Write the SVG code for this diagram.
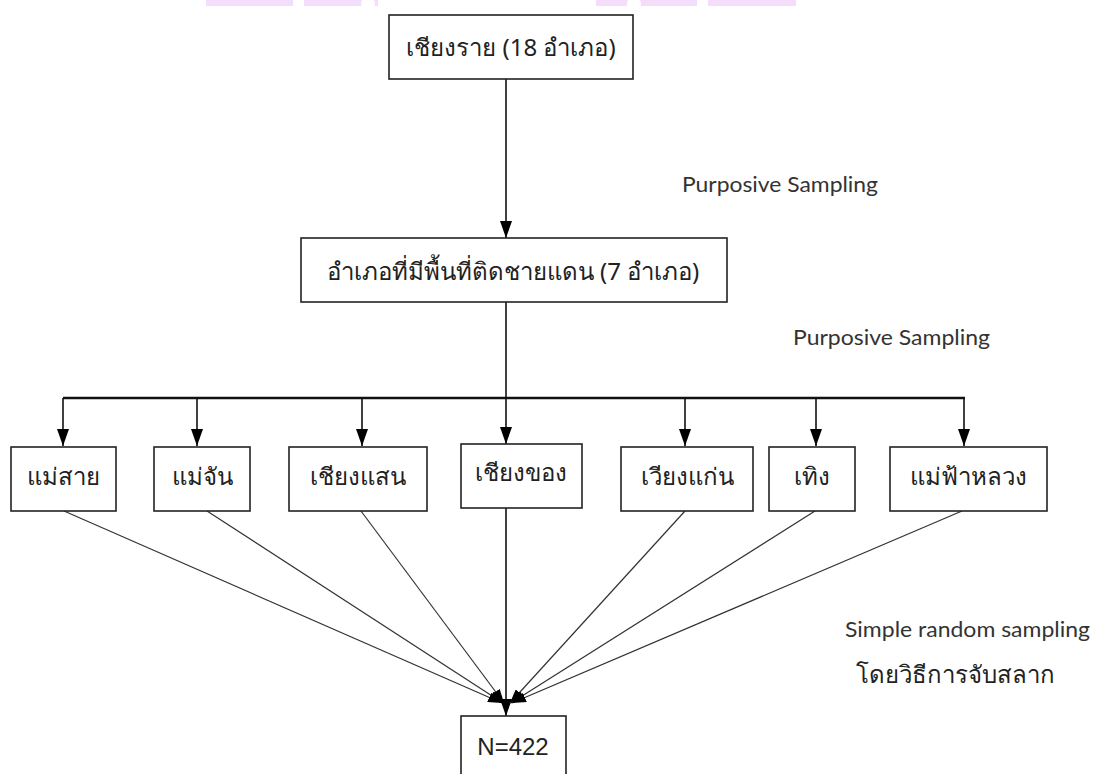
<svg xmlns="http://www.w3.org/2000/svg" width="1096" height="774" viewBox="0 0 1096 774">
<style>
.box{fill:#fff;stroke:#222;stroke-width:1.6}
.th{font-family:"Noto Sans","DejaVu Sans",sans-serif;font-size:24px;fill:#222;text-anchor:middle}
.lbl{font-family:Lato,"Open Sans",sans-serif;font-size:22px;fill:#333}
.c{stroke:#111;stroke-width:1.6;fill:none}
.s{stroke:#333;stroke-width:1.2;fill:none}
.wm{fill:#f4dcfb}
</style>
<defs>
<marker id="a" viewBox="0 0 17 12" refX="17" refY="6" markerWidth="17" markerHeight="12" markerUnits="userSpaceOnUse" orient="auto"><path d="M0,0 L17,6 L0,12 z" fill="#000"/></marker>
<marker id="b" viewBox="0 0 14 10" refX="14" refY="5" markerWidth="14" markerHeight="10" markerUnits="userSpaceOnUse" orient="auto"><path d="M0,0 L14,5 L0,10 z" fill="#000"/></marker>
</defs>
<rect width="1096" height="774" fill="#fff"/>
<g id="watermark">
<rect class="wm" x="206" y="0" width="87" height="6"/>
<rect class="wm" x="304" y="0" width="74" height="6"/>
<rect class="wm" x="596" y="0" width="101" height="6"/>
<rect class="wm" x="708" y="0" width="88" height="6"/>
<circle cx="368" cy="4" r="7" fill="#fff"/>
<circle cx="634" cy="4" r="7" fill="#fff"/>
</g>
<g id="connectors">
<line class="c" x1="506" y1="79" x2="506" y2="238" marker-end="url(#a)"/>
<line class="c" x1="506" y1="302" x2="506" y2="398"/>
<line x1="63" y1="398" x2="965" y2="398" stroke="#111" stroke-width="2.6"/>
<line class="c" x1="63" y1="398" x2="63" y2="446" marker-end="url(#a)"/>
<line class="c" x1="197" y1="398" x2="197" y2="446" marker-end="url(#a)"/>
<line class="c" x1="362" y1="398" x2="362" y2="446" marker-end="url(#a)"/>
<line class="c" x1="506" y1="398" x2="506" y2="444" marker-end="url(#a)"/>
<line class="c" x1="685" y1="398" x2="685" y2="446" marker-end="url(#a)"/>
<line class="c" x1="816" y1="398" x2="816" y2="446" marker-end="url(#a)"/>
<line class="c" x1="964" y1="398" x2="964" y2="446" marker-end="url(#a)"/>
<line class="s" x1="64" y1="511" x2="502" y2="703" marker-end="url(#b)"/>
<line class="s" x1="207" y1="511" x2="503" y2="703" marker-end="url(#b)"/>
<line class="s" x1="361" y1="511" x2="504" y2="703" marker-end="url(#b)"/>
<line class="c" x1="506" y1="508" x2="506" y2="716" marker-end="url(#a)"/>
<line class="s" x1="685" y1="511" x2="510" y2="703" marker-end="url(#b)"/>
<line class="s" x1="815" y1="511" x2="511" y2="703" marker-end="url(#b)"/>
<line class="s" x1="962" y1="511" x2="512" y2="703" marker-end="url(#b)"/>
</g>
<g id="n-chiangrai"><rect class="box" x="389" y="15" width="244" height="64"/><text class="th" x="511" y="56">เชียงราย (18 อำเภอ)</text></g>
<g id="n-border"><rect class="box" x="301" y="238" width="426" height="64"/><text class="th" x="513" y="280">อำเภอที่มีพื้นที่ติดชายแดน (7 อำเภอ)</text></g>
<g id="n-maesai"><rect class="box" x="11" y="447" width="105" height="64"/><text class="th" x="63" y="485">แม่สาย</text></g>
<g id="n-maechan"><rect class="box" x="154" y="447" width="96" height="64"/><text class="th" x="202" y="485">แม่จัน</text></g>
<g id="n-chiangsaen"><rect class="box" x="289" y="447" width="138" height="64"/><text class="th" x="358" y="485">เชียงแสน</text></g>
<g id="n-chiangkhong"><rect class="box" x="461" y="444" width="121" height="64"/><text class="th" x="521" y="481">เชียงของ</text></g>
<g id="n-wiangkaen"><rect class="box" x="621" y="447" width="132" height="64"/><text class="th" x="687" y="485">เวียงแก่น</text></g>
<g id="n-thoeng"><rect class="box" x="769" y="447" width="86" height="64"/><text class="th" x="812" y="485">เทิง</text></g>
<g id="n-maefahluang"><rect class="box" x="890" y="447" width="157" height="64"/><text class="th" x="968" y="485">แม่ฟ้าหลวง</text></g>
<g id="n-total"><rect class="box" x="461" y="716" width="105" height="64"/><text x="513" y="755" font-family="'Liberation Sans',Arial,sans-serif" font-size="24" fill="#222" text-anchor="middle">N=422</text></g>
<g id="labels">
<text class="lbl" x="682" y="192" textLength="196" lengthAdjust="spacingAndGlyphs">Purposive Sampling</text>
<text class="lbl" x="793" y="345" textLength="197" lengthAdjust="spacingAndGlyphs">Purposive Sampling</text>
<text class="lbl" x="845" y="637" textLength="245" lengthAdjust="spacingAndGlyphs">Simple random sampling</text>
<text class="th" x="955" y="683">โดยวิธีการจับสลาก</text>
</g>
</svg>
